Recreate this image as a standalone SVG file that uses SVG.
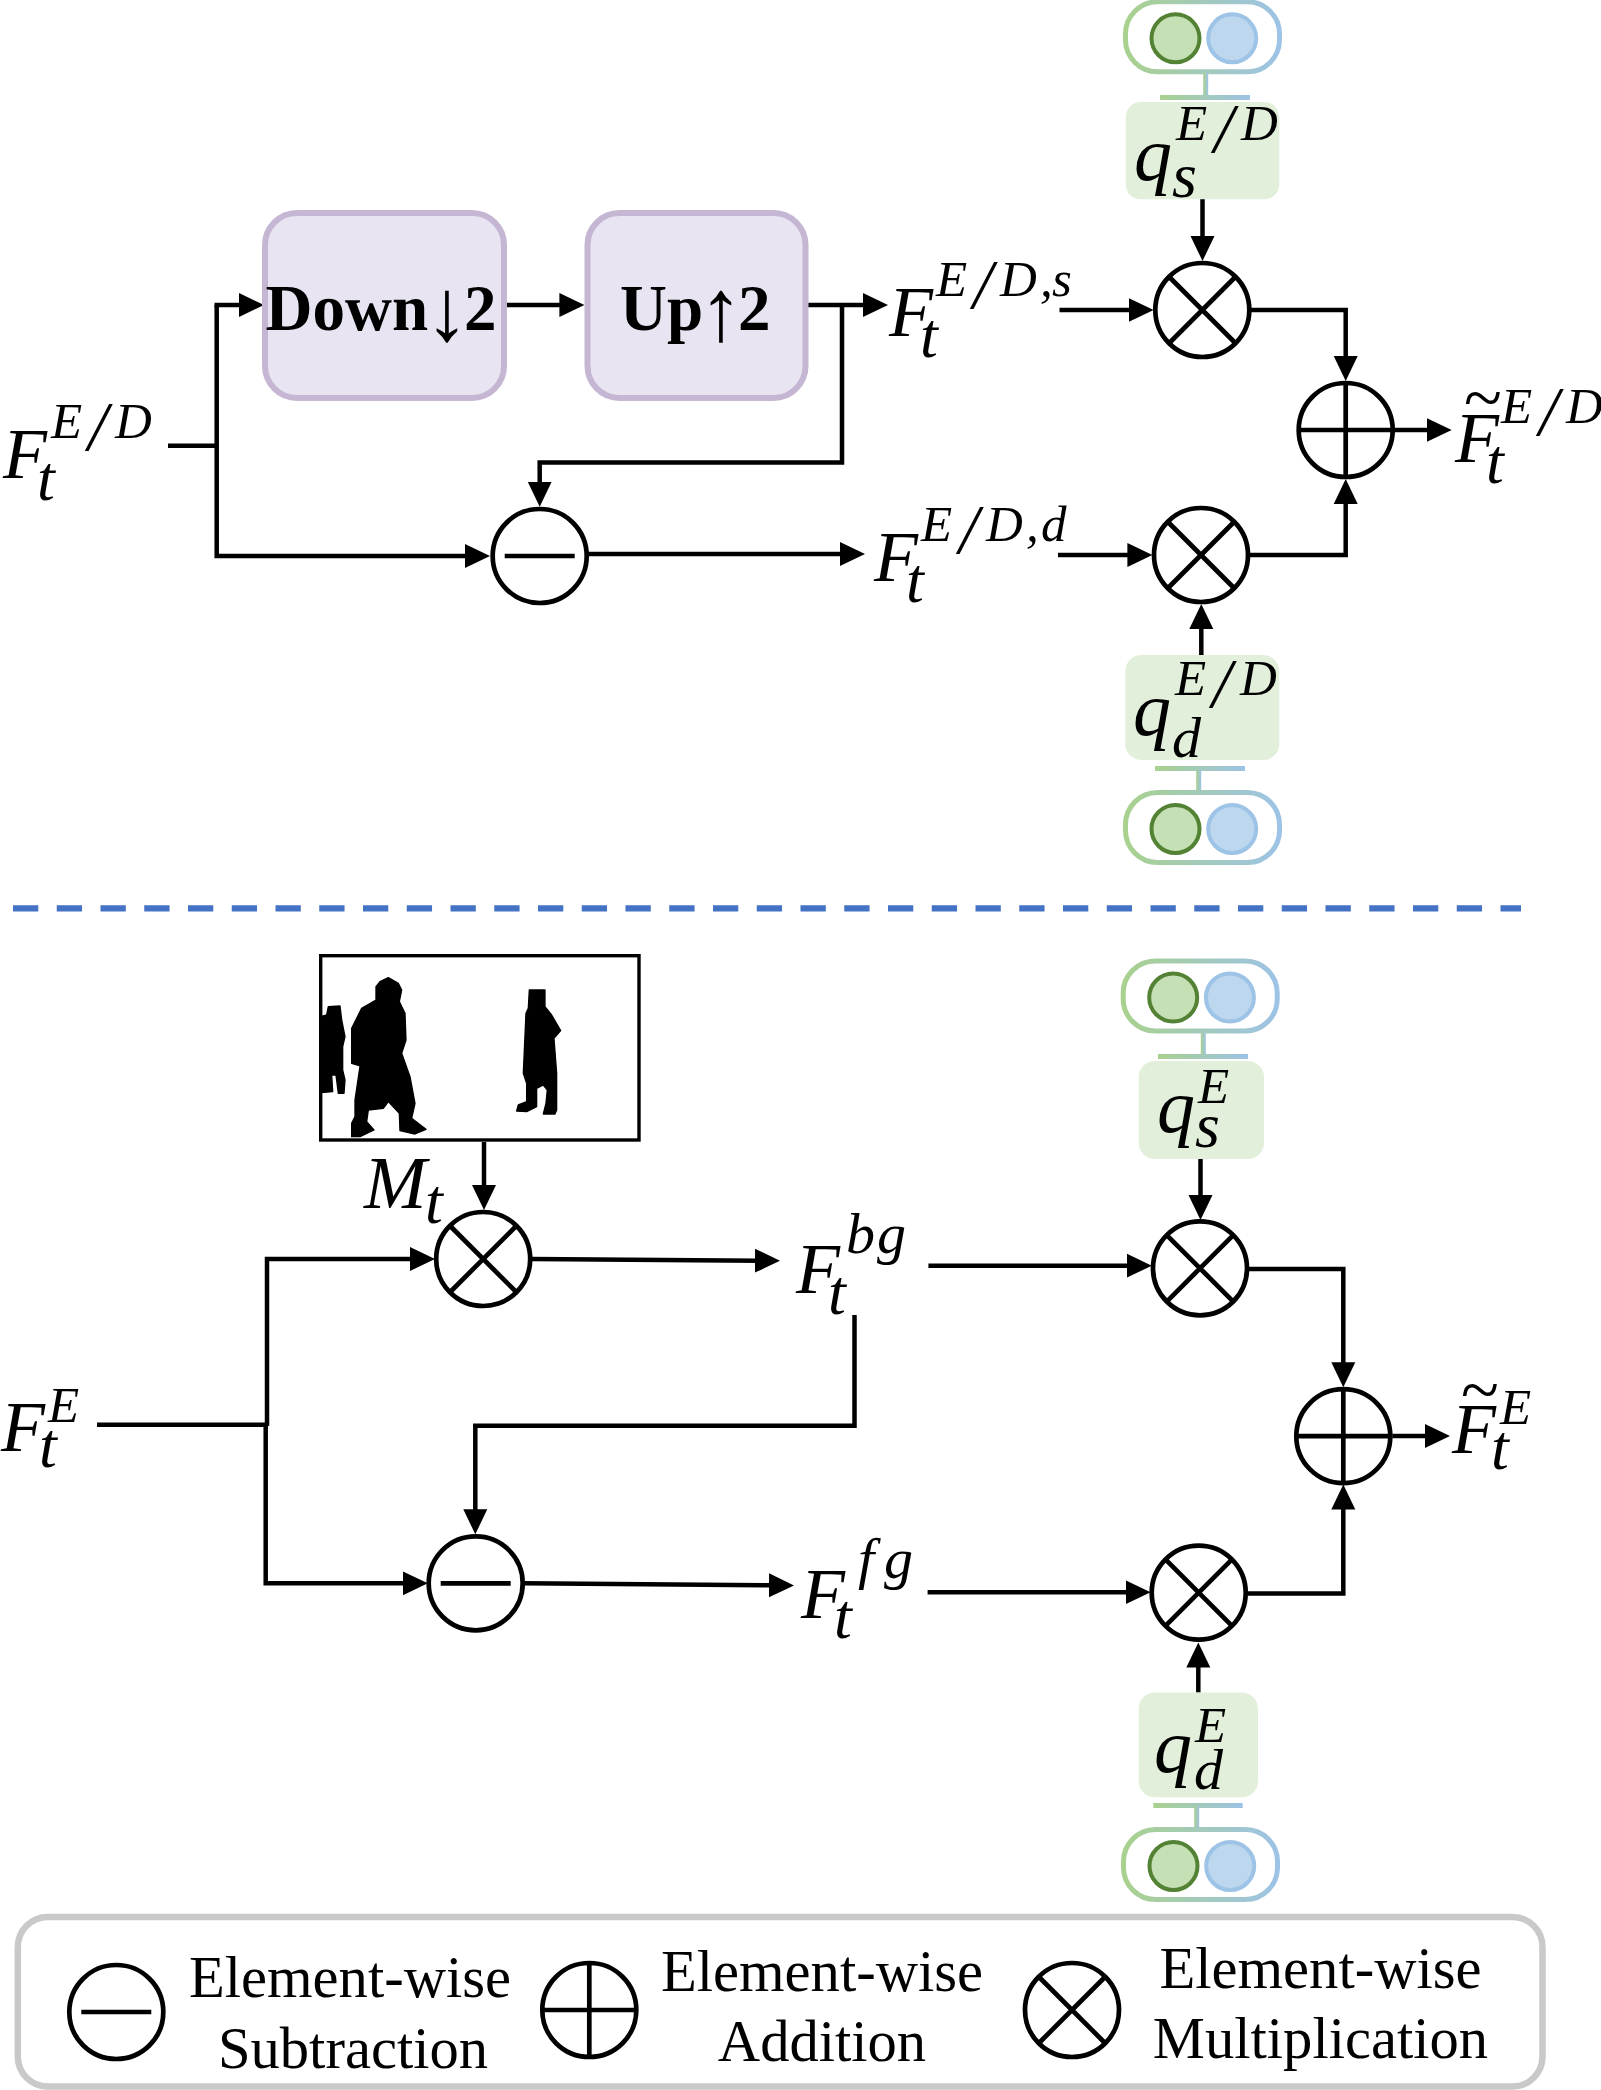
<svg xmlns="http://www.w3.org/2000/svg" width="1601" height="2090" viewBox="0 0 1601 2090">
  <style>
    text { font-family: "Liberation Serif", "Times New Roman", serif; fill: #000; }
    .base { font-style: italic; font-size: 72px; }
    .q { font-style: italic; font-size: 76px; }
    .sup { font-style: italic; font-size: 51px; }
    .slash { font-style: italic; font-size: 70px; }
    .sup2 { font-style: italic; font-size: 58px; }
    .sub { font-style: italic; font-size: 64px; }
    .sub2 { font-style: italic; font-size: 58px; }
    .til { font-size: 70px; }
    .block { font-weight: bold; font-size: 65px; }
    .dir { font-size: 88px; text-anchor: middle; }
    .note { font-size: 58.6px; text-anchor: middle; }
    .wire { fill: none; stroke: #000; stroke-width: 4.5; }
    .arrow { marker-end: url(#head); }
    .ring { fill: #fff; stroke: #000; stroke-width: 4.7; }
    .mark { fill: none; stroke: #000; stroke-width: 4.7; }
    .box { fill: #e9e4f1; stroke: #c5b6d3; stroke-width: 6; }
    .tag { fill: #e2efda; }
    .pill { fill: #fff; stroke: url(#duo); stroke-width: 5; }
    .duo { fill: url(#duo); }
    .dotg { fill: #c5e0b4; stroke: #548235; stroke-width: 4; }
    .dotb { fill: #bdd7ee; stroke: #9dc3e6; stroke-width: 4; }
  </style>
  <defs>
    <linearGradient id="duo">
      <stop offset="0" stop-color="#a9d18e"/>
      <stop offset="1" stop-color="#9dc3e6"/>
    </linearGradient>
    <marker id="head" markerUnits="userSpaceOnUse" markerWidth="26" markerHeight="26" refX="5" refY="12.5" orient="auto">
      <path d="M0,0.5 L25,12.5 L0,24.5 z" fill="#000"/>
    </marker>
    <g id="op-mul">
      <circle class="ring" r="47"/>
      <path class="mark" d="M-32.5,-32.5 L32.5,32.5 M32.5,-32.5 L-32.5,32.5"/>
    </g>
    <g id="op-add">
      <circle class="ring" r="47"/>
      <path class="mark" d="M-47,0 H47 M0,-47 V47"/>
    </g>
    <g id="op-sub">
      <circle class="ring" r="47"/>
      <path class="mark" d="M-35,0 H35"/>
    </g>
    <g id="quant">
      <rect class="pill" x="0" y="0" width="154" height="70" rx="32"/>
      <circle class="dotg" cx="50" cy="36.5" r="24"/>
      <circle class="dotb" cx="106.7" cy="36.5" r="24"/>
    </g>
  </defs>

  <!-- connectors -->
  <g id="connectors">
    <!-- upper branch -->
    <path class="wire" d="M168,445.7 H216.7"/>
    <path class="wire arrow" d="M216.7,305 V556 H470"/>
    <path class="wire arrow" d="M214.5,305 H244"/>
    <path class="wire arrow" d="M505.3,305 H564.4"/>
    <path class="wire arrow" d="M804.8,305 H868"/>
    <path class="wire arrow" d="M842,305 V462.5 H539.7 V486.7"/>
    <path class="wire arrow" d="M588,554 H845"/>
    <path class="wire arrow" d="M1059.5,310 H1133.6"/>
    <path class="wire arrow" d="M1058,555 H1132.4"/>
    <path class="wire arrow" d="M1202.5,199 V241"/>
    <path class="wire arrow" d="M1201.3,655 V624"/>
    <path class="wire arrow" d="M1251,310 H1345.7 V361"/>
    <path class="wire arrow" d="M1250,555 H1345.7 V499"/>
    <path class="wire arrow" d="M1395,430 H1431.7"/>
    <!-- lower branch -->
    <path class="wire" d="M97,1424.7 H267"/>
    <path class="wire arrow" d="M267,1426 V1259 H415"/>
    <path class="wire arrow" d="M265.7,1424 V1583.3 H407.8"/>
    <path class="wire arrow" d="M484,1142 V1190"/>
    <path class="wire arrow" d="M532,1259 L760,1260.7"/>
    <path class="wire arrow" d="M854.5,1315 V1425.7 H475.3 V1514.3"/>
    <path class="wire arrow" d="M524,1583.3 L774,1585.3"/>
    <path class="wire arrow" d="M928.4,1265.7 H1131.8"/>
    <path class="wire arrow" d="M927.6,1592.3 H1130.6"/>
    <path class="wire arrow" d="M1200.5,1159 V1200"/>
    <path class="wire arrow" d="M1198.3,1692.6 V1662.6"/>
    <path class="wire arrow" d="M1248,1269 H1343.3 V1367.3"/>
    <path class="wire arrow" d="M1247.7,1593.4 H1343.3 V1504.6"/>
    <path class="wire arrow" d="M1392.3,1436 H1430"/>
  </g>

  <!-- upper part: blocks -->
  <g id="down-block">
    <rect class="box" x="265" y="213" width="239" height="185" rx="32"/>
    <text class="block" x="265.5" y="330">Down</text>
    <text class="dir" x="447" y="340">↓</text>
    <text class="block" x="464" y="330">2</text>
  </g>
  <g id="up-block">
    <rect class="box" x="587.5" y="213" width="218" height="185" rx="32"/>
    <text class="block" x="620" y="330">Up</text>
    <text class="dir" x="721" y="340">↑</text>
    <text class="block" x="738" y="330">2</text>
  </g>

  <!-- operators -->
  <g id="sub-upper"><use href="#op-sub" x="539.7" y="556"/></g>
  <g id="mul-s-upper"><use href="#op-mul" x="1202.3" y="310"/></g>
  <g id="mul-d-upper"><use href="#op-mul" x="1201" y="555"/></g>
  <g id="add-upper"><use href="#op-add" x="1345.7" y="430"/></g>
  <g id="mul-mask"><use href="#op-mul" x="483.2" y="1259"/></g>
  <g id="sub-lower"><use href="#op-sub" x="475.7" y="1583.3"/></g>
  <g id="mul-s-lower"><use href="#op-mul" x="1200" y="1268.3"/></g>
  <g id="mul-d-lower"><use href="#op-mul" x="1198.7" y="1592.7"/></g>
  <g id="add-lower"><use href="#op-add" x="1343.3" y="1436.2"/></g>

  <!-- feature labels -->
  <g id="label-input-ed">
    <text class="base" x="3" y="478.3">F</text>
    <text class="sub" x="37" y="500">t</text>
    <text class="sup" x="51" y="438.3">E</text><text class="slash" x="88" y="450.3">/</text><text class="sup" x="115" y="438.3">D</text>
  </g>
  <g id="label-f-s">
    <text class="base" x="889" y="335.7">F</text>
    <text class="sub" x="920" y="356.7">t</text>
    <text class="sup" x="936" y="296">E</text><text class="slash" x="973" y="308">/</text><text class="sup" x="1000" y="296">D</text><text class="sup" x="1040" y="296">,</text><text class="sup" x="1052" y="296">s</text>
  </g>
  <g id="label-f-d">
    <text class="base" x="874" y="580.7">F</text>
    <text class="sub" x="906" y="601.7">t</text>
    <text class="sup" x="921" y="540.7">E</text><text class="slash" x="959" y="552.7">/</text><text class="sup" x="986" y="540.7">D</text><text class="sup" x="1026" y="540.7">,</text><text class="sup" x="1041" y="540.7">d</text>
  </g>
  <g id="label-out-ed">
    <text class="base" x="1455" y="461.7">F</text>
    <text class="til" x="1464" y="421">~</text>
    <text class="sub" x="1486" y="483">t</text>
    <text class="sup" x="1501" y="423.3">E</text><text class="slash" x="1539" y="435.3">/</text><text class="sup" x="1566" y="423.3">D</text>
  </g>

  <!-- quantizer gates, upper part -->
  <g id="gate-s-upper">
    <use href="#quant" x="1125.5" y="1.8"/>
    <rect class="duo" x="1203.2" y="72" width="5" height="26"/>
    <rect class="duo" x="1160" y="95" width="90" height="5"/>
    <rect class="tag" x="1125.7" y="102" width="153.6" height="97.3" rx="15"/>
    <text class="q" x="1134" y="180">q</text>
    <text class="sub" x="1172" y="197.3">s</text>
    <text class="sup" x="1176" y="140">E</text><text class="slash" x="1214" y="152">/</text><text class="sup" x="1241" y="140">D</text>
  </g>
  <g id="gate-d-upper">
    <rect class="tag" x="1125.3" y="655" width="154" height="105" rx="16"/>
    <text class="q" x="1133" y="735">q</text>
    <text class="sub2" x="1172" y="756.7">d</text>
    <text class="sup" x="1175" y="695">E</text><text class="slash" x="1212" y="707">/</text><text class="sup" x="1240" y="695">D</text>
    <rect class="duo" x="1155" y="766" width="90" height="5"/>
    <rect class="duo" x="1196.2" y="770" width="5" height="24"/>
    <use href="#quant" x="1125.5" y="792.5"/>
  </g>

  <!-- separator -->
  <path id="separator" d="M13,908.3 H1521" fill="none" stroke="#4472c4" stroke-width="6.3" stroke-dasharray="25.3 18.45"/>

  <!-- mask panel -->
  <g id="mask-panel">
    <rect x="320.7" y="955.7" width="318.3" height="184.3" fill="#fff" stroke="#000" stroke-width="3.4"/>
    <g transform="translate(300,940) scale(0.3333)" fill="#000" stroke="#000" stroke-width="4" stroke-linejoin="round">
      <path d="M62,230 L80,225 L85,200 L120,198 L125,240 L135,290 L128,320 L128,390 L135,420 L132,460 L115,460 L108,405 L95,405 L98,455 L62,458 Z"/>
      <path d="M265,113 L295,130 L305,150 L298,185 L315,220 L318,300 L305,340 L330,410 L345,490 L335,535 L378,568 L345,582 L300,572 L298,520 L265,485 L250,505 L205,510 L200,545 L222,570 L180,590 L155,590 L155,550 L165,530 L165,480 L180,378 L155,370 L155,265 L185,205 L228,180 L228,140 L240,125 Z"/>
      <path d="M688,150 L735,150 L735,200 L755,225 L782,272 L762,295 L770,400 L770,510 L765,522 L730,522 L738,490 L742,450 L730,435 L710,445 L710,500 L680,515 L650,513 L655,495 L680,485 L680,430 L670,400 L678,220 L685,205 Z"/>
    </g>
  </g>
  <g id="label-mask">
    <text class="base" x="364" y="1208.3" style="font-size:75px">M</text>
    <text class="sub" x="425" y="1223">t</text>
  </g>

  <!-- feature labels, lower part -->
  <g id="label-input-e">
    <text class="base" x="1" y="1450.7">F</text>
    <text class="sub" x="39" y="1466.7">t</text>
    <text class="sup" x="48" y="1422.3">E</text>
  </g>
  <g id="label-bg">
    <text class="base" x="796" y="1292.7">F</text>
    <text class="sub" x="828" y="1314">t</text>
    <text class="sup2" x="846" y="1252.7">b</text><text class="sup2" x="877" y="1252.7">g</text>
  </g>
  <g id="label-fg">
    <text class="base" x="801" y="1617.7">F</text>
    <text class="sub" x="834" y="1638">t</text>
    <text class="sup2" x="858" y="1578.3">f</text><text class="sup2" x="884" y="1578.3">g</text>
  </g>
  <g id="label-out-e">
    <text class="base" x="1452" y="1453">F</text>
    <text class="til" x="1461" y="1413">~</text>
    <text class="sub" x="1491" y="1468.7">t</text>
    <text class="sup" x="1500" y="1424.3">E</text>
  </g>

  <!-- quantizer gates, lower part -->
  <g id="gate-s-lower">
    <use href="#quant" x="1123.2" y="961"/>
    <rect class="duo" x="1200.8" y="1033" width="5" height="24"/>
    <rect class="duo" x="1158" y="1054" width="90" height="5"/>
    <rect class="tag" x="1138.7" y="1061" width="125.3" height="98" rx="16"/>
    <text class="q" x="1157" y="1131.7">q</text>
    <text class="sub" x="1195" y="1146.7">s</text>
    <text class="sup" x="1198" y="1103.3">E</text>
  </g>
  <g id="gate-d-lower">
    <rect class="tag" x="1138.7" y="1692.6" width="119.3" height="104.7" rx="16"/>
    <text class="q" x="1154" y="1772">q</text>
    <text class="sub2" x="1194" y="1788.7">d</text>
    <text class="sup" x="1195" y="1741.8">E</text>
    <rect class="duo" x="1153.3" y="1803" width="89.4" height="5"/>
    <rect class="duo" x="1194.2" y="1806" width="5" height="24"/>
    <use href="#quant" x="1123.5" y="1829.5"/>
  </g>

  <!-- legend -->
  <g id="legend">
    <rect x="17.8" y="1917" width="1524.7" height="169.5" rx="30" fill="#fff" stroke="#c9c9c9" stroke-width="6.5"/>
    <g id="legend-sub">
      <use href="#op-sub" x="116.3" y="2012"/>
      <text class="note" x="350" y="1997.3">Element-wise</text>
      <text class="note" x="353" y="2068.3">Subtraction</text>
    </g>
    <g id="legend-add">
      <use href="#op-add" x="589.3" y="2010"/>
      <text class="note" x="822" y="1990.7">Element-wise</text>
      <text class="note" x="822" y="2060.7">Addition</text>
    </g>
    <g id="legend-mul">
      <use href="#op-mul" x="1072" y="2010"/>
      <text class="note" x="1320.5" y="1987.7">Element-wise</text>
      <text class="note" x="1320.5" y="2058">Multiplication</text>
    </g>
  </g>
</svg>
